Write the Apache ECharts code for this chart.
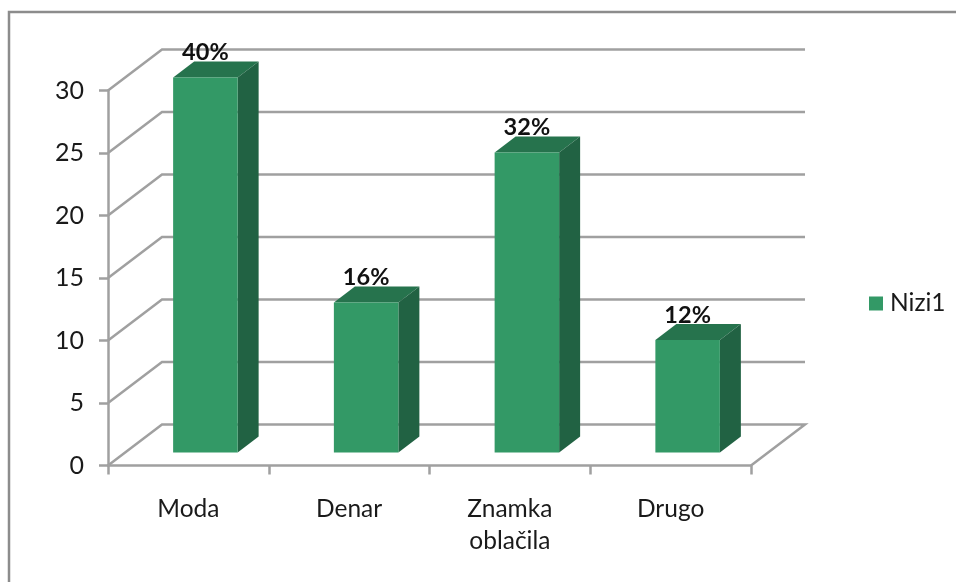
<!DOCTYPE html>
<html>
<head>
<meta charset="utf-8">
<script src="https://cdn.jsdelivr.net/npm/echarts@6/dist/echarts.min.js"></script>
<style>
html, body { margin: 0; padding: 0; background: #fff; }
#chart { width: 956px; height: 582px; }
</style>
</head>
<body>
<div id="chart"></div>
<script>
const categories = ['Moda', 'Denar', 'Znamka\noblačila', 'Drugo'];
const seriesName = 'Nizi1';
const values = [30, 12, 24, 9];
const percentLabels = ['40%', '16%', '32%', '12%'];
const yTicks = [0, 5, 10, 15, 20, 25, 30];

const gridColor = '#a0a0a0';
const textColor = '#1a1a1a';
const fontFamily = 'Lato, "Open Sans", sans-serif';

// fake 3d: how far the back wall and the bars are pushed back
const wallDx = 54, wallDy = -41;
const floorDx = 17, floorDy = -13;
const barDx = 21, barDy = -16;
const barWidth = 64.5;

const chart = echarts.init(document.getElementById('chart'), null, {renderer: 'canvas'});

function renderWalls(params, api) {
    const rect = params.coordSys;
    const v = api.value(0);
    const y = api.coord([0, v])[1];
    const left = rect.x, right = rect.x + rect.width;
    const points = [[left, y], [left + wallDx, y + wallDy], [right + wallDx, y + wallDy]];
    if (v === 0) {
        points.push([right, y]);
    }
    return {
        type: 'polyline',
        shape: {points},
        style: {stroke: gridColor, lineWidth: 2.5, fill: null},
    };
}

function renderBar(params, api) {
    const idx = api.value(0);
    const top = api.coord([idx, api.value(1)]);
    const base = api.coord([idx, 0]);
    const x0 = top[0] + floorDx - barWidth / 2;
    const x1 = x0 + barWidth;
    const y0 = top[1] + floorDy;
    const y1 = base[1] + floorDy;
    return {
        type: 'group',
        children: [{
            type: 'polygon',
            shape: {points: [[x0, y0], [x0 + barDx, y0 + barDy], [x1 + barDx, y0 + barDy], [x1, y0]]},
            style: {fill: '#26734d'},
        }, {
            type: 'polygon',
            shape: {points: [[x1, y0], [x1 + barDx, y0 + barDy], [x1 + barDx, y1 + barDy], [x1, y1]]},
            style: {fill: '#216243'},
        }, {
            type: 'rect',
            shape: {x: x0, y: y0, width: barWidth, height: y1 - y0},
            style: {fill: '#339966'},
        }, {
            type: 'text',
            style: {
                text: percentLabels[idx],
                x: x0 + barWidth / 2,
                y: y0 - 13,
                align: 'center',
                verticalAlign: 'bottom',
                fill: '#111',
                font: `bold 23.5px ${fontFamily}`,
            },
        }],
    };
}

chart.setOption({
    animation: false,
    backgroundColor: '#fff',
    graphic: [{
        type: 'polyline',
        silent: true,
        shape: {points: [[9, 582], [9, 12], [956, 12]]},
        style: {stroke: '#8c8c8c', lineWidth: 2.5, fill: null},
    }],
    legend: {
        left: 864,
        top: 286,
        itemWidth: 14,
        itemHeight: 14,
        itemGap: 0,
        data: [{name: seriesName, icon: 'rect', itemStyle: {color: '#339966'}}],
        textStyle: {fontFamily, fontSize: 24.5, color: textColor, padding: [0, 0, 0, 2]},
    },
    grid: {left: 108, right: 205, top: 90.5, bottom: 116.5},
    xAxis: {
        type: 'category',
        data: categories,
        boundaryGap: true,
        axisLine: {lineStyle: {color: gridColor, width: 2.5}},
        axisTick: {show: true, alignWithLabel: false, length: 9, lineStyle: {color: gridColor, width: 2.5}},
        axisLabel: {fontFamily, fontSize: 24.5, color: textColor, margin: 28, lineHeight: 32, interval: 0},
    },
    yAxis: {
        type: 'value',
        min: 0,
        max: 30,
        interval: 5,
        axisLine: {show: true, lineStyle: {color: gridColor, width: 2.5}},
        axisTick: {show: true, length: 9, lineStyle: {color: gridColor, width: 2.5}},
        axisLabel: {fontFamily, fontSize: 25, color: textColor, margin: 24},
        splitLine: {show: false},
    },
    series: [{
        name: 'walls',
        type: 'custom',
        renderItem: renderWalls,
        data: yTicks.map(v => [v]),
        encode: {y: 0},
        clip: false,
        silent: true,
        z: 1,
    }, {
        name: seriesName,
        type: 'custom',
        renderItem: renderBar,
        data: values.map((v, i) => [i, v]),
        encode: {x: 0, y: 1},
        clip: false,
        itemStyle: {color: '#339966'},
        z: 3,
    }],
});
</script>
</body>
</html>
